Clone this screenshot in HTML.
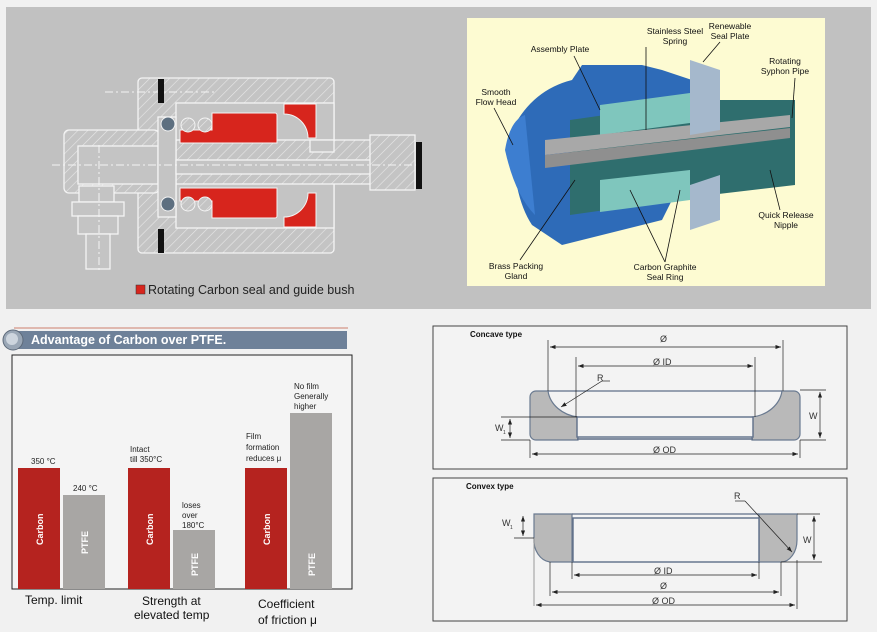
<!DOCTYPE html>
<html><head><meta charset="utf-8"><style>
html,body{margin:0;padding:0;background:#f1f1f1;}
svg{display:block;font-family:"Liberation Sans",Arial,sans-serif;}
</style></head><body>
<svg width="877" height="632" viewBox="0 0 877 632" xmlns="http://www.w3.org/2000/svg">
<defs>
<pattern id="h" width="7" height="7" patternUnits="userSpaceOnUse" patternTransform="rotate(45)">
<rect width="7" height="7" fill="#c4c4c4"/><line x1="0" y1="0" x2="0" y2="7" stroke="#e8e8e8" stroke-width="1.2"/></pattern>
<marker id="a" markerWidth="8" markerHeight="6" refX="8" refY="3" orient="auto-start-reverse"><path d="M0,0 L8,3 L0,6 z" fill="#222"/></marker>
</defs>
<rect width="877" height="632" fill="#f1f1f1"/>
<!-- top gray panel -->
<rect x="6" y="7" width="865" height="302" fill="#c1c1c1"/>
<!-- left technical drawing -->
<g stroke="#f4f4f4" stroke-width="1.3">
<rect x="138" y="78" width="196" height="175" rx="4" fill="url(#h)"/>
<rect x="64" y="130" width="95" height="63" rx="5" fill="url(#h)"/>
<rect x="78" y="146" width="80" height="38" fill="#c4c4c4"/>
<rect x="176" y="103" width="158" height="125" fill="#c4c4c4"/>
<rect x="176" y="140" width="235" height="44" fill="url(#h)"/>
<rect x="158" y="117" width="18" height="100" fill="#c4c4c4"/>
<rect x="176" y="160" width="230" height="14" fill="#c4c4c4"/>
<rect x="310" y="140" width="24" height="12" fill="#c4c4c4"/>
<rect x="370" y="135" width="45" height="55" fill="url(#h)"/>
<rect x="79" y="186" width="35" height="16" fill="#c4c4c4"/>
<rect x="72" y="202" width="52" height="14" fill="#c4c4c4"/>
<rect x="78" y="216" width="40" height="18" fill="#c4c4c4"/>
<rect x="86" y="234" width="24" height="35" fill="#c4c4c4"/>
</g>
<line x1="52" y1="165" x2="420" y2="165" stroke="#f4f4f4" stroke-dasharray="8,3,2,3"/>
<line x1="105" y1="92" x2="215" y2="92" stroke="#f4f4f4" stroke-dasharray="8,3,2,3"/>
<line x1="99" y1="145" x2="99" y2="272" stroke="#f4f4f4" stroke-dasharray="8,3,2,3"/>
<rect x="158" y="79" width="6" height="24" fill="#111"/>
<rect x="158" y="229" width="6" height="24" fill="#111"/>
<rect x="416" y="142" width="6" height="47" fill="#111"/>
<g fill="#d7251d" stroke="#f4f4f4" stroke-width="1">
<path d="M212,113 h63 a2,2 0 0 1 2,2 v28 h-97 v-13 h32 z"/>
<path d="M212,218 h63 a2,2 0 0 0 2,-2 v-28 h-97 v13 h32 z"/>
<path d="M284,104 h32 v34 h-8 a24,24 0 0 0 -24,-24 z"/>
<path d="M284,227 h32 v-34 h-8 a24,24 0 0 1 -24,24 z"/>
</g>
<g stroke="#f4f4f4" stroke-width="1">
<circle cx="168" cy="124" r="7" fill="#5d6f80"/><circle cx="168" cy="204" r="7" fill="#5d6f80"/>
<circle cx="188" cy="125" r="7" fill="url(#h)"/><circle cx="205" cy="125" r="7" fill="url(#h)"/>
<circle cx="188" cy="204" r="7" fill="url(#h)"/><circle cx="205" cy="204" r="7" fill="url(#h)"/>
</g>
<rect x="136" y="285" width="9" height="9" fill="#d7251d" stroke="#333" stroke-width="0.5"/>
<text x="148" y="294" font-size="12.5" fill="#222">Rotating Carbon seal and guide bush</text>
<!-- right picture -->
<rect x="467" y="18" width="358" height="268" fill="#fdfbd2"/>
<path d="M512,130 q20,-40 60,-50 l10,-15 h60 l20,5 l30,10 v80 l-30,60 l-40,10 l-60,15 l-30,-20 q-20,-30 -20,-95z" fill="#2e6bb8"/>
<path d="M505,150 q5,-30 20,-35 l10,100 q-20,-20 -30,-65z" fill="#3d7ed0"/>
<path d="M570,120 l140,-20 h85 v85 l-85,10 l-140,20z" fill="#2f6e6e"/>
<path d="M600,105 l90,-12 v30 l-90,12z M600,180 l90,-10 v30 l-90,12z" fill="#7fc6bd"/>
<path d="M545,140 l245,-25 v12 l-245,28z" fill="#a8a8a8"/>
<path d="M545,155 l245,-27 v10 l-245,30z" fill="#8f8f8f"/>
<path d="M690,60 l30,10 v60 l-30,5z M690,185 l30,-10 v45 l-30,10z" fill="#a5b8cc"/>
<g font-size="8.5" fill="#111" text-anchor="middle">
<text x="675" y="34">Stainless Steel</text><text x="675" y="44">Spring</text>
<text x="730" y="29">Renewable</text><text x="730" y="39">Seal Plate</text>
<text x="560" y="52">Assembly Plate</text>
<text x="785" y="64">Rotating</text><text x="785" y="74">Syphon Pipe</text>
<text x="496" y="95">Smooth</text><text x="496" y="105">Flow Head</text>
<text x="786" y="218">Quick Release</text><text x="786" y="228">Nipple</text>
<text x="516" y="269">Brass Packing</text><text x="516" y="279">Gland</text>
<text x="665" y="270">Carbon Graphite</text><text x="665" y="280">Seal Ring</text>
</g>
<g stroke="#111" stroke-width="0.8" fill="none">
<line x1="574" y1="56" x2="600" y2="110"/><line x1="646" y1="47" x2="646" y2="130"/>
<line x1="720" y1="42" x2="703" y2="62"/><line x1="795" y1="78" x2="792" y2="118"/>
<line x1="494" y1="108" x2="513" y2="145"/><line x1="780" y1="210" x2="770" y2="170"/>
<line x1="520" y1="260" x2="575" y2="180"/><line x1="665" y1="262" x2="630" y2="190"/><line x1="665" y1="262" x2="680" y2="190"/>
</g>
<!-- chart header -->
<line x1="14" y1="328" x2="348" y2="328" stroke="#c05a40" stroke-width="0.8"/>
<rect x="12" y="331" width="335" height="18" fill="#6e8199"/>
<circle cx="13" cy="340" r="10" fill="#9aa7b6" stroke="#5d6a7a"/>
<circle cx="12" cy="339" r="6" fill="#cdd5de"/>
<text x="31" y="344" font-size="12.5" font-weight="bold" fill="#fff">Advantage of Carbon over PTFE.</text>
<rect x="12" y="355" width="340" height="234" fill="#f4f4f4" stroke="#222" stroke-width="1"/>
<g fill="#b5231f"><rect x="18" y="468" width="42" height="121"/><rect x="128" y="468" width="42" height="121"/><rect x="245" y="468" width="42" height="121"/></g>
<g fill="#a8a6a4"><rect x="63" y="495" width="42" height="94"/><rect x="173" y="530" width="42" height="59"/><rect x="290" y="413" width="42" height="176"/></g>
<g font-size="9" font-weight="bold" fill="#fff">
<text transform="translate(43,545) rotate(-90)">Carbon</text>
<text transform="translate(88,554) rotate(-90)">PTFE</text>
<text transform="translate(153,545) rotate(-90)">Carbon</text>
<text transform="translate(198,576) rotate(-90)">PTFE</text>
<text transform="translate(270,545) rotate(-90)">Carbon</text>
<text transform="translate(315,576) rotate(-90)">PTFE</text>
</g>
<g font-size="8" fill="#222">
<text x="31" y="464">350 °C</text><text x="73" y="491">240 °C</text>
<text x="130" y="452">Intact</text><text x="130" y="462">till 350°C</text>
<text x="182" y="508">loses</text><text x="182" y="518">over</text><text x="182" y="528">180°C</text>
<text x="246" y="439">Film</text><text x="246" y="450">formation</text><text x="246" y="461">reduces μ</text>
<text x="294" y="389">No film</text><text x="294" y="399">Generally</text><text x="294" y="409">higher</text>
</g>
<g font-size="12" fill="#111">
<text x="25" y="604">Temp. limit</text>
<text x="142" y="605">Strength at</text><text x="134" y="619">elevated temp</text>
<text x="258" y="608">Coefficient</text><text x="258" y="624">of friction μ</text>
</g>
<!-- concave -->
<rect x="433" y="326" width="414" height="143" fill="#f3f3f3" stroke="#444"/>
<text x="470" y="337" font-size="8" font-weight="bold" fill="#111">Concave type</text>
<path d="M536,391 h12 a35,30 0 0 0 30,26 v23 h-42 a6,6 0 0 1 -6,-6 v-37 a6,6 0 0 1 6,-6z" fill="#b9b9b9" stroke="#6a7a90" stroke-width="1.2"/>
<path d="M794,391 h-12 a35,30 0 0 1 -30,26 v23 h42 a6,6 0 0 0 6,-6 v-37 a6,6 0 0 0 -6,-6z" fill="#b9b9b9" stroke="#6a7a90" stroke-width="1.2"/>
<rect x="577" y="417" width="176" height="20" fill="#f3f3f3" stroke="#5e6e88" stroke-width="1.4"/>
<line x1="548" y1="391" x2="782" y2="391" stroke="#5e6e88" stroke-width="1.2"/>
<line x1="577" y1="439" x2="753" y2="439" stroke="#5e6e88" stroke-width="1.4"/>
<g stroke="#222" stroke-width="0.7" fill="none">
<line x1="548" y1="340" x2="548" y2="391"/><line x1="783" y1="340" x2="783" y2="391"/>
<line x1="576" y1="357" x2="576" y2="417"/><line x1="755" y1="357" x2="755" y2="417"/>
<line x1="550" y1="347" x2="781" y2="347" marker-start="url(#a)" marker-end="url(#a)"/>
<line x1="578" y1="366" x2="753" y2="366" marker-start="url(#a)" marker-end="url(#a)"/>
<line x1="532" y1="454" x2="798" y2="454" marker-start="url(#a)" marker-end="url(#a)"/>
<line x1="530" y1="440" x2="530" y2="458"/><line x1="800" y1="440" x2="800" y2="458"/>
<line x1="800" y1="390" x2="826" y2="390"/><line x1="800" y1="440" x2="826" y2="440"/>
<line x1="820" y1="392" x2="820" y2="438" marker-start="url(#a)" marker-end="url(#a)"/>
<line x1="501" y1="417" x2="577" y2="417"/><line x1="501" y1="440" x2="530" y2="440"/>
<line x1="510" y1="419" x2="510" y2="438" marker-start="url(#a)" marker-end="url(#a)"/>
<line x1="602" y1="381" x2="561" y2="407" marker-end="url(#a)"/><line x1="602" y1="381" x2="610" y2="381"/>
</g>
<g font-size="9" fill="#333"><text x="660" y="342">Ø</text><text x="653" y="365">Ø ID</text><text x="597" y="381">R</text>
<text x="653" y="453">Ø OD</text><text x="809" y="419">W</text><text x="495" y="431">W</text><text x="503" y="434" font-size="5">1</text></g>
<!-- convex -->
<rect x="433" y="478" width="414" height="143" fill="#f3f3f3" stroke="#444"/>
<text x="466" y="489" font-size="8" font-weight="bold" fill="#111">Convex type</text>
<path d="M534,514 h38 v48 h-22 a18,22 0 0 1 -16,-24z" fill="#b9b9b9" stroke="#6a7a90" stroke-width="1.2"/>
<path d="M797,514 h-38 v48 h22 a16,22 0 0 0 16,-22z" fill="#b9b9b9" stroke="#6a7a90" stroke-width="1.2"/>
<rect x="573" y="518" width="186" height="44" fill="#f3f3f3" stroke="#5e6e88" stroke-width="1.4"/>
<line x1="572" y1="514" x2="759" y2="514" stroke="#5e6e88" stroke-width="1.2"/>
<line x1="534" y1="538" x2="534" y2="606" stroke="#999" stroke-width="1"/>
<g stroke="#222" stroke-width="0.7" fill="none">
<line x1="572" y1="562" x2="572" y2="579"/><line x1="759" y1="562" x2="759" y2="579"/>
<line x1="550" y1="562" x2="550" y2="596"/><line x1="781" y1="562" x2="781" y2="596"/>
<line x1="797" y1="560" x2="797" y2="609"/>
<line x1="574" y1="575" x2="757" y2="575" marker-start="url(#a)" marker-end="url(#a)"/>
<line x1="552" y1="592" x2="779" y2="592" marker-start="url(#a)" marker-end="url(#a)"/>
<line x1="536" y1="605" x2="795" y2="605" marker-start="url(#a)" marker-end="url(#a)"/>
<line x1="797" y1="514" x2="820" y2="514"/><line x1="781" y1="562" x2="822" y2="562"/>
<line x1="814" y1="516" x2="814" y2="560" marker-start="url(#a)" marker-end="url(#a)"/>
<line x1="514" y1="538" x2="534" y2="538"/>
<line x1="523" y1="516" x2="523" y2="536" marker-start="url(#a)" marker-end="url(#a)"/>
<line x1="745" y1="501" x2="792" y2="552" marker-end="url(#a)"/><line x1="735" y1="501" x2="745" y2="501"/>
</g>
<g font-size="9" fill="#333"><text x="654" y="574">Ø ID</text><text x="660" y="589">Ø</text><text x="652" y="604">Ø OD</text>
<text x="734" y="499">R</text><text x="803" y="543">W</text><text x="502" y="526">W</text><text x="510" y="529" font-size="5">1</text></g>
</svg>
</body></html>
